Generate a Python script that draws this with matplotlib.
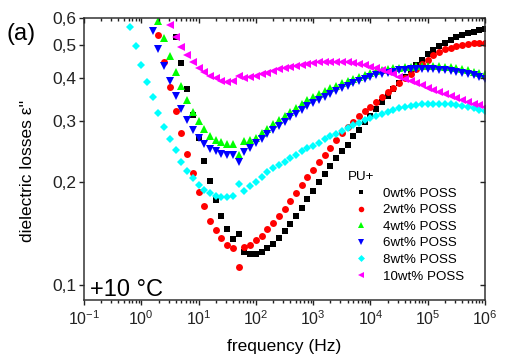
import numpy as np
import matplotlib
matplotlib.use("Agg")
import matplotlib.pyplot as plt
from matplotlib.ticker import FixedLocator, FixedFormatter, NullLocator, LogLocator, NullFormatter

plt.rcParams['font.family'] = ['Liberation Sans', 'DejaVu Sans']
plt.rcParams['mathtext.fontset'] = 'custom'
plt.rcParams['mathtext.rm'] = 'Liberation Sans'
plt.rcParams['mathtext.it'] = 'Liberation Sans:italic'
plt.rcParams['mathtext.bf'] = 'Liberation Sans:bold'

# measurement grid: 10 points per decade, 10^-0.2 .. 10^6 Hz
freq = 10 ** (np.arange(-2, 61) / 10)

labels = ["0wt% POSS", "2wt% POSS", "4wt% POSS", "6wt% POSS", "8wt% POSS", "10wt% POSS"]

poss0 = [0.529, 0.443, 0.372, 0.313, 0.268, 0.230, 0.201, 0.177, 0.159, 0.146,
         0.136, 0.141, 0.125, 0.123, 0.123, 0.125, 0.128, 0.132, 0.137, 0.144,
         0.151, 0.159, 0.168, 0.178, 0.188, 0.199, 0.210, 0.222, 0.234, 0.245,
         0.256, 0.271, 0.283, 0.298, 0.311, 0.326, 0.341, 0.356, 0.373, 0.389,
         0.405, 0.422, 0.438, 0.454, 0.470, 0.484, 0.497, 0.509, 0.519, 0.528,
         0.535, 0.541, 0.547, 0.552, 0.556]
poss2 = [0.534, 0.448, 0.378, 0.322, 0.277, 0.241, 0.212, 0.187, 0.170, 0.154,
         0.145, 0.137, 0.131, 0.128, 0.113, 0.129, 0.131, 0.135, 0.139, 0.146,
         0.152, 0.159, 0.167, 0.176, 0.186, 0.196, 0.207, 0.217, 0.229, 0.239,
         0.251, 0.265, 0.277, 0.288, 0.299, 0.310, 0.321, 0.331, 0.342, 0.353,
         0.364, 0.376, 0.388, 0.400, 0.412, 0.426, 0.441, 0.454, 0.467, 0.478,
         0.486, 0.492, 0.498, 0.502, 0.505, 0.507, 0.508, 0.509]
poss4 = [0.590, 0.524, 0.466, 0.419, 0.379, 0.347, 0.320, 0.300, 0.285, 0.271,
         0.265, 0.261, 0.257, 0.257, 0.240, 0.262, 0.265, 0.269, 0.277, 0.285,
         0.294, 0.302, 0.311, 0.319, 0.328, 0.336, 0.345, 0.353, 0.360, 0.367,
         0.374, 0.380, 0.387, 0.393, 0.399, 0.404, 0.410, 0.416, 0.420, 0.423,
         0.426, 0.428, 0.430, 0.432, 0.433, 0.434, 0.435, 0.435, 0.435, 0.434,
         0.433, 0.431, 0.429, 0.426, 0.423, 0.419, 0.415, 0.411]
poss6 = [0.550, 0.487, 0.435, 0.392, 0.356, 0.326, 0.303, 0.283, 0.268, 0.257,
         0.249, 0.245, 0.241, 0.239, 0.240, 0.228, 0.244, 0.251, 0.259, 0.267,
         0.275, 0.283, 0.291, 0.299, 0.308, 0.316, 0.324, 0.332, 0.340, 0.347,
         0.354, 0.361, 0.368, 0.374, 0.381, 0.387, 0.393, 0.398, 0.404, 0.409,
         0.413, 0.416, 0.419, 0.422, 0.424, 0.425, 0.426, 0.426, 0.426, 0.426,
         0.424, 0.423, 0.421, 0.418, 0.415, 0.412, 0.408, 0.403, 0.399]
poss8 = [0.566, 0.497, 0.438, 0.391, 0.354, 0.317, 0.289, 0.266, 0.247, 0.228,
         0.215, 0.205, 0.196, 0.189, 0.185, 0.182, 0.180, 0.180, 0.182, 0.197,
         0.188, 0.194, 0.199, 0.207, 0.213, 0.219, 0.224, 0.229, 0.234, 0.239,
         0.245, 0.250, 0.255, 0.260, 0.266, 0.271, 0.276, 0.281, 0.287, 0.292,
         0.297, 0.302, 0.306, 0.311, 0.315, 0.319, 0.323, 0.327, 0.330, 0.332,
         0.335, 0.336, 0.338, 0.338, 0.338, 0.338, 0.336, 0.335, 0.332, 0.330,
         0.327, 0.324, 0.321]
poss10 = [0.571, 0.529, 0.494, 0.469, 0.446, 0.430, 0.417, 0.407, 0.400, 0.394,
          0.391, 0.393, 0.407, 0.400, 0.403, 0.407, 0.411, 0.416, 0.421, 0.425,
          0.429, 0.433, 0.436, 0.439, 0.442, 0.445, 0.446, 0.448, 0.448, 0.448,
          0.448, 0.446, 0.444, 0.441, 0.437, 0.432, 0.428, 0.422, 0.417, 0.411,
          0.405, 0.399, 0.393, 0.387, 0.382, 0.376, 0.371, 0.365, 0.360, 0.356,
          0.351, 0.346, 0.342, 0.338, 0.334, 0.330]

series = [poss0, poss2, poss4, poss6, poss8, poss10]
colors = ["#000000", "#ff0000", "#00ff00", "#0000ff", "#00ffff", "#ff00ff"]
markers = ["s", "o", "^", "v", "D", "<"]
sizes = [4.4, 5.0, 5.4, 5.4, 4.4, 5.4]

xticks = [1e-1, 1e0, 1e1, 1e2, 1e3, 1e4, 1e5, 1e6]
xticklabels = ["$10^{-1}$", "$10^{0}$", "$10^{1}$", "$10^{2}$", "$10^{3}$",
               "$10^{4}$", "$10^{5}$", "$10^{6}$"]
yticks = [0.1, 0.2, 0.3, 0.4, 0.5, 0.6]
yticklabels = ["0,1", "0,2", "0,3", "0,4", "0,5", "0,6"]

fig = plt.figure(figsize=(5.1, 3.61), dpi=100)
ax = fig.add_axes([0.1647, 0.169, 0.7863, 0.781])

for vals, c, m, s, lab in zip(series, colors, markers, sizes, labels):
    ax.plot(freq[-len(vals):], vals, linestyle="none", marker=m, color=c,
            markersize=s, markeredgewidth=0, label=lab)

ax.set_xscale("log")
ax.set_yscale("log")
ax.set_xlim(0.1, 1e6)
ax.set_ylim(0.0904, 0.6)

ax.yaxis.set_major_locator(FixedLocator(yticks))
ax.yaxis.set_major_formatter(FixedFormatter(yticklabels))
ax.yaxis.set_minor_locator(NullLocator())
ax.xaxis.set_major_locator(FixedLocator(xticks))
ax.xaxis.set_major_formatter(FixedFormatter(xticklabels))
ax.xaxis.set_minor_locator(LogLocator(base=10, subs=np.arange(2, 10), numticks=20))
ax.xaxis.set_minor_formatter(NullFormatter())

ax.tick_params(which="both", direction="out", top=False, right=False,
               colors="#222222", width=1, pad=2)
ax.tick_params(axis="y", labelsize=12.5)
ax.tick_params(axis="x", labelsize=11.5, pad=3)
ax.tick_params(which="major", length=3.5)
ax.tick_params(which="minor", length=2)
for sp in ax.spines.values():
    sp.set_linewidth(1.1)
    sp.set_color("#333333")

# mirrored top/right ticks pointing inward
axt = ax.twiny()
axt.set_xscale("log")
axt.set_xlim(ax.get_xlim())
axt.xaxis.set_major_locator(FixedLocator(xticks))
axt.xaxis.set_minor_locator(LogLocator(base=10, subs=np.arange(2, 10), numticks=20))
axt.tick_params(which="both", direction="in", labeltop=False, colors="#222222", width=1)
axt.tick_params(which="major", length=3.5)
axt.tick_params(which="minor", length=2)
axr = ax.twinx()
axr.set_yscale("log")
axr.set_ylim(ax.get_ylim())
axr.yaxis.set_major_locator(FixedLocator(yticks))
axr.yaxis.set_minor_locator(NullLocator())
axr.tick_params(which="both", direction="in", labelright=False, colors="#222222",
                width=1, length=3.5)
for a in (axt, axr):
    for sp in a.spines.values():
        sp.set_visible(False)

ax.set_xlabel("frequency (Hz)", fontsize=12.5, labelpad=8)
ax.set_ylabel("dielectric losses ε''", fontsize=12.5)
ax.yaxis.set_label_coords(-0.122, 0.457)

leg = ax.legend(title="PU+", loc="upper left", bbox_to_anchor=(348 / 510, 1 - 171 / 361),
                bbox_transform=fig.transFigure, frameon=False, fontsize=9.6,
                title_fontsize=9.6, labelspacing=0.32, handlelength=2.0,
                handletextpad=0.6, borderpad=0, borderaxespad=0,
                markerscale=0.8, alignment="left")

fig.text(7 / 510, 1 - 40 / 361, "(a)", fontsize=17, va="baseline")
ax.text(0.016, 0.0125, "+10 °C", transform=ax.transAxes, fontsize=17, va="baseline")

fig.savefig("out.png", dpi=100)
